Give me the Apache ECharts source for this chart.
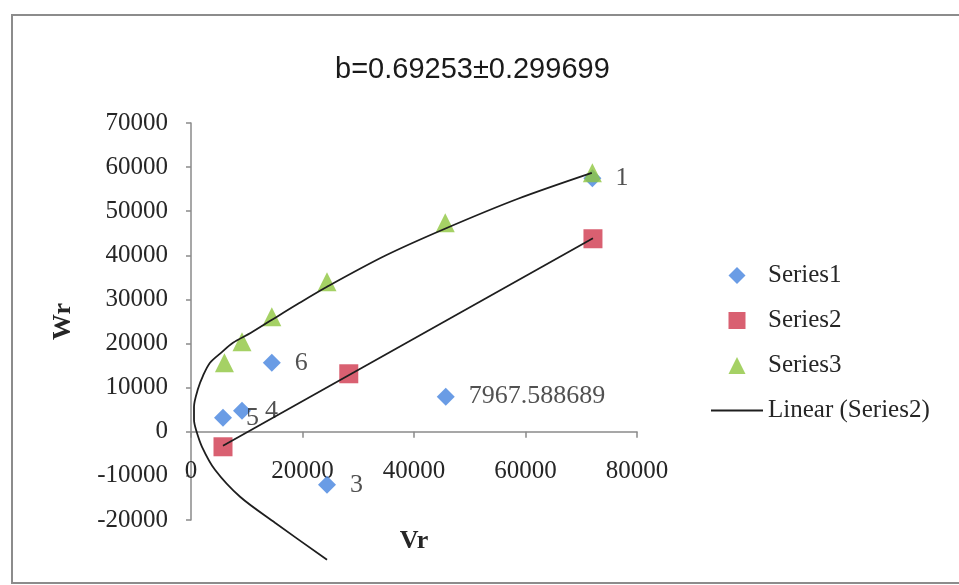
<!DOCTYPE html>
<html>
<head>
<meta charset="utf-8">
<script src="https://cdn.jsdelivr.net/npm/echarts@6/dist/echarts.min.js"></script>
<style>
html,body{margin:0;padding:0;background:#fff;}
#c{width:959px;height:585px;}
</style>
</head>
<body>
<div id="c"></div>
<script>
// ---- data ----
const titleText = 'b=0.69253\u00B10.299699';
const xTicks = { min: 0, max: 80000, interval: 20000 };
const yTicks = { min: -20000, max: 70000, interval: 10000 };

const s1X = [72000, 45700, 24400, 9150, 5740, 14500];
const s1Y = [57500, 7968, -12000, 4760, 3180, 15650];
const s1Labels = ['1', '7967.588689', '3', '4', '5', '6'];

const s2X = [5740, 28300, 72100];
const s2Y = [-3400, 13150, 43760];

const s3X = [6000, 9150, 14500, 24400, 45600, 72000];
const s3Y = [15650, 20400, 26100, 34000, 47400, 58700];

// curve drawn in the reference
const curveX = [71900, 58650, 45550, 34800, 24400, 19200, 14530, 10760, 7530, 5380, 3410, 2150, 1260, 540, 540, 900, 1970, 4300, 8800, 15070, 24400];
const curveY = [58700, 52830, 46030, 39900, 32880, 29020, 25400, 22450, 20180, 17900, 15650, 12700, 9750, 5670, 2720, 450, -3400, -8620, -14740, -20630, -29020];

// ---- linear trend of Series2 (least squares) ----
function linFit(xs, ys) {
  const n = xs.length;
  const mx = xs.reduce((a, b) => a + b, 0) / n;
  const my = ys.reduce((a, b) => a + b, 0) / n;
  let sxy = 0, sxx = 0;
  for (let i = 0; i < n; i++) { sxy += (xs[i] - mx) * (ys[i] - my); sxx += (xs[i] - mx) * (xs[i] - mx); }
  const k = sxy / sxx;
  return { k: k, b: my - k * mx };
}
const fit = linFit(s2X, s2Y);
const x0 = Math.min.apply(null, s2X), x1 = Math.max.apply(null, s2X);
const trend = [[x0, fit.k * x0 + fit.b], [x1, fit.k * x1 + fit.b]];

const zip = (xs, ys) => xs.map((x, i) => [x, ys[i]]);

const serif = '"Liberation Serif", "Times New Roman", serif';
const axisColor = '#8a8a8a';
const textColor = '#262626';
const lineColor = '#1e1e1e';

const gridTop = 123, gridHeight = 397;
// x axis sits on y = 0 of the value axis
const zeroOffset = -gridHeight * (0 - yTicks.min) / (yTicks.max - yTicks.min);

const chart = echarts.init(document.getElementById('c'), null, { renderer: 'canvas' });
chart.setOption({
  backgroundColor: '#ffffff',
  animation: false,
  title: {
    text: titleText,
    left: 330,
    top: 50,
    textStyle: { fontFamily: '"Liberation Sans", Arial, sans-serif', fontSize: 29, fontWeight: 'normal', color: '#1a1a1a' }
  },
  graphic: [{
    type: 'rect',
    shape: { x: 12, y: 15, width: 960, height: 568 },
    style: { fill: 'none', stroke: '#8c8c8c', lineWidth: 2 },
    silent: true
  }],
  grid: { left: 191, top: gridTop, width: 446, height: gridHeight, containLabel: false, outerBoundsMode: 'none' },
  legend: {
    data: [
      { name: 'Series1', icon: 'path://M5,0 L10,5 L5,10 L0,5 Z' },
      { name: 'Series2', icon: 'path://M0,0 L10,0 L10,10 L0,10 Z' },
      { name: 'Series3', icon: 'path://M5,0 L10,10 L0,10 Z' },
      { name: 'Linear (Series2)', icon: 'path://M0,0 L50,0 L50,2 L0,2 Z' }
    ],
    orient: 'vertical',
    left: 706,
    top: 258,
    itemWidth: 52,
    itemHeight: 17,
    itemGap: 20,
    symbolKeepAspect: true,
    textStyle: { fontFamily: serif, fontSize: 25, lineHeight: 25, color: textColor }
  },
  xAxis: {
    type: 'value',
    min: xTicks.min, max: xTicks.max, interval: xTicks.interval,
    offset: zeroOffset,
    name: 'Vr',
    nameLocation: 'middle',
    nameGap: 97,
    nameTextStyle: { fontFamily: serif, fontSize: 26, fontWeight: 'bold', color: textColor, verticalAlign: 'top' },
    axisLine: { onZero: false, lineStyle: { color: axisColor, width: 1.5 } },
    axisTick: { show: true, inside: false, length: 6, lineStyle: { color: axisColor, width: 1.5 } },
    axisLabel: { margin: 27, fontFamily: serif, fontSize: 25, color: textColor, showMinLabel: true, showMaxLabel: true, formatter: v => String(v) },
    splitLine: { show: false }
  },
  yAxis: {
    type: 'value',
    min: yTicks.min, max: yTicks.max, interval: yTicks.interval,
    name: 'Wr',
    nameLocation: 'middle',
    nameGap: 115,
    nameTextStyle: { fontFamily: serif, fontSize: 26, fontWeight: 'bold', color: textColor },
    axisLine: { show: true, onZero: false, lineStyle: { color: axisColor, width: 1.5 } },
    axisTick: { show: true, inside: false, length: 5, lineStyle: { color: axisColor, width: 1.5 } },
    axisLabel: { margin: 23, fontFamily: serif, fontSize: 25, color: textColor, showMinLabel: true, showMaxLabel: true, formatter: v => String(v) },
    splitLine: { show: false }
  },
  series: [
    {
      name: 'Series1', type: 'scatter', symbol: 'diamond', symbolSize: 18,
      itemStyle: { color: '#4583de' },
      data: zip(s1X, s1Y),
      label: {
        show: true, position: 'right', distance: 14,
        fontFamily: serif, fontSize: 26, color: textColor,
        formatter: p => s1Labels[p.dataIndex]
      },
      z: 2
    },
    {
      name: 'Series2', type: 'scatter', symbol: 'rect', symbolSize: 19,
      itemStyle: { color: '#d0384e' },
      data: zip(s2X, s2Y),
      z: 3
    },
    {
      name: 'Series3', type: 'scatter', symbol: 'triangle', symbolSize: 19,
      itemStyle: { color: '#8fc63e' },
      data: zip(s3X, s3Y),
      z: 4
    },
    {
      name: 'Linear (Series2)', type: 'line', symbol: 'none', showSymbol: false,
      lineStyle: { color: lineColor, width: 1.8 },
      itemStyle: { color: lineColor },
      data: trend,
      z: 5
    },
    {
      name: 'curve', type: 'line', symbol: 'none', showSymbol: false, smooth: 0.3,
      clip: false,
      lineStyle: { color: lineColor, width: 1.8 },
      data: zip(curveX, curveY),
      z: 5
    }
  ]
});
</script>
</body>
</html>
